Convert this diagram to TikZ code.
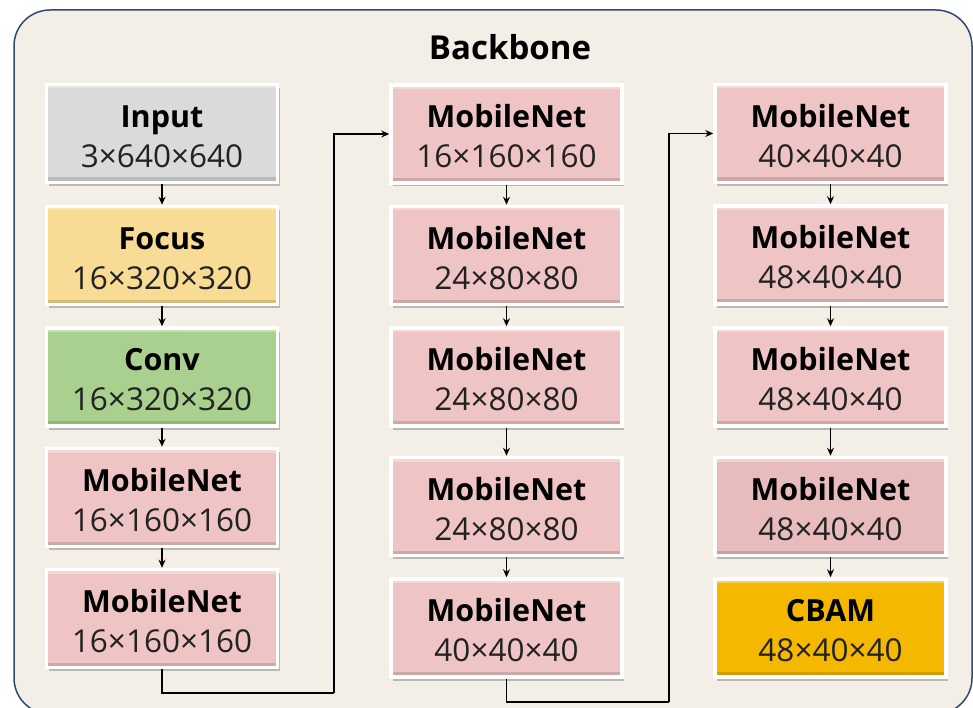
\documentclass[tikz,border=0pt]{standalone}
\usepackage{fontspec}
\setmainfont{Open Sans}
\usetikzlibrary{arrows.meta,shadows}

\definecolor{paper}{HTML}{F3EFE6}
\definecolor{frameline}{HTML}{2F4A6E}
\definecolor{inputfill}{HTML}{DADADA}
\definecolor{focusfill}{HTML}{F8DB94}
\definecolor{convfill}{HTML}{A9D08E}
\definecolor{mobfill}{HTML}{EFC4C4}
\definecolor{mobdark}{HTML}{E8BBBC}
\definecolor{cbamfill}{HTML}{F5B800}
\definecolor{dimtext}{HTML}{222222}

\tikzset{
  block/.style={
    draw=white, line width=3.5pt,
    minimum width=231pt, minimum height=98pt,
    inner sep=0pt, align=center,
    font=\fontsize{31.5}{40}\selectfont,
    drop shadow={shadow xshift=2pt, shadow yshift=-3.5pt, opacity=0.4, fill=black!60},
    path picture={
      \fill[black, opacity=0.14] (path picture bounding box.south west)
        rectangle ([yshift=5pt]path picture bounding box.south east);
      \fill[white, opacity=0.35] ([yshift=-4pt]path picture bounding box.north west)
        rectangle (path picture bounding box.north east);
    }
  },
  arr/.style={line width=1.6pt, draw=black, -{Stealth[length=8pt,width=7pt]}},
  link/.style={line width=1.6pt, draw=black}
}

\newcommand{\blk}[2]{{\fontsize{30.5}{40}\selectfont\bfseries\rule{0pt}{28pt}#1}\\{\color{dimtext}#2}}

\begin{document}
\begin{tikzpicture}[x=1pt, y=-1pt]
  \clip (0,0) rectangle (973,708);
  \fill[white] (0,0) rectangle (973,708);

  % outer panel
  \draw[fill=paper, draw=frameline, line width=1.5pt, rounded corners=36pt]
    (14,10) rectangle (972,714);
  \node[font=\fontsize{33}{38}\selectfont\bfseries] (title) at (510,47) {Backbone};

  % first column
  \node[block, fill=inputfill] (a1) at (162,133.5) {\blk{Input}{3×640×640}};
  \node[block, fill=focusfill] (a2) at (162,255.5) {\blk{Focus}{16×320×320}};
  \node[block, fill=convfill]  (a3) at (162,377)   {\blk{Conv}{16×320×320}};
  \node[block, fill=mobfill]   (a4) at (162,497.5) {\blk{MobileNet}{16×160×160}};
  \node[block, fill=mobfill]   (a5) at (162,618.5) {\blk{MobileNet}{16×160×160}};

  % second column
  \node[block, fill=mobfill] (b1) at (506.5,134)   {\blk{MobileNet}{16×160×160}};
  \node[block, fill=mobfill] (b2) at (506.5,255.5) {\blk{MobileNet}{24×80×80}};
  \node[block, fill=mobfill] (b3) at (506.5,377)   {\blk{MobileNet}{24×80×80}};
  \node[block, fill=mobfill] (b4) at (506.5,506.5) {\blk{MobileNet}{24×80×80}};
  \node[block, fill=mobfill] (b5) at (506.5,628)   {\blk{MobileNet}{40×40×40}};

  % third column
  \node[block, fill=mobfill]  (c1) at (830.5,133.5) {\blk{MobileNet}{40×40×40}};
  \node[block, fill=mobfill]  (c2) at (830.5,255)   {\blk{MobileNet}{48×40×40}};
  \node[block, fill=mobfill]  (c3) at (830.5,377)   {\blk{MobileNet}{48×40×40}};
  \node[block, fill=mobdark]  (c4) at (830.5,506.5) {\blk{MobileNet}{48×40×40}};
  \node[block, fill=cbamfill] (c5) at (830.5,628)   {\blk{CBAM}{48×40×40}};

  % arrows inside the columns
  \foreach \col in {a,b,c}{
    \draw[arr] (\col1) -- (\col2);
    \draw[arr] (\col2) -- (\col3);
    \draw[arr] (\col3) -- (\col4);
    \draw[arr] (\col4) -- (\col5);
  }

  % hand-over between columns
  \coordinate (ab) at (334,693);
  \coordinate (bc) at (669,702);
  \draw[link] (a5.south) |- (ab);
  \draw[arr] (ab) |- (b1.west);
  \draw[link] (b5.south) |- (bc);
  \draw[arr] (bc) |- (c1.west);
\end{tikzpicture}
\end{document}
